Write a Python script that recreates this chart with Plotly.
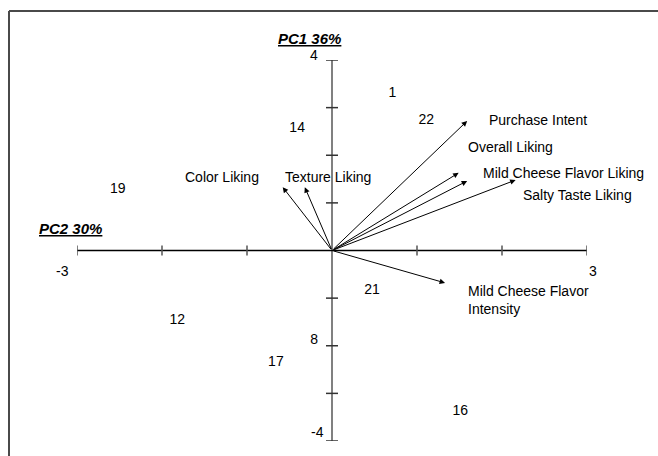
import plotly.graph_objects as go

# Sample scores on the two principal components
sample_ids = ["1", "22", "14", "19", "21", "12", "8", "17", "16"]
sample_pc2 = [0.71, 1.11, -0.41, -2.52, 0.47, -1.82, -0.21, -0.66, 1.51]
sample_pc1 = [3.29, 2.72, 2.57, 1.29, -0.83, -1.46, -1.90, -2.36, -3.37]

# Attribute loadings (arrow tips)
attr_names = [
    "Purchase Intent",
    "Overall Liking",
    "Mild Cheese Flavor Liking",
    "Salty Taste Liking",
    "Color Liking",
    "Texture Liking",
    "Mild Cheese Flavor<br>Intensity",
]
attr_pc2 = [1.59, 1.49, 1.59, 2.16, -0.58, -0.32, 1.33]
attr_pc1 = [2.72, 1.63, 1.46, 1.48, 1.33, 1.33, -0.68]

# Axis ticks
x_ticks = [-3, -2, -1, 0, 1, 2, 3]
y_ticks = [-4, -3, -2, -1, 1, 2, 3, 4]
x_axis_title = "PC2 30%"
y_axis_title = "PC1 36%"

FONT = "Liberation Sans, Arial, sans-serif"
W, H = 658, 456
ML, MR, MT, MB = 77, 71, 60, 15

fig = go.Figure()

fig.add_trace(go.Scatter(
    x=sample_pc2, y=sample_pc1, text=sample_ids, mode="text",
    textposition="middle center",
    textfont=dict(family=FONT, size=14, color="#000000"),
    hoverinfo="skip", showlegend=False,
))

shapes = []
annotations = []

# Outer frame (top and left edges)
def px_to_paper_x(px):
    return (px - ML) / (W - ML - MR)

def px_to_paper_y(py):
    return (H - MB - py) / (H - MT - MB)

shapes.append(dict(type="line", xref="paper", yref="paper",
                   x0=px_to_paper_x(9), x1=px_to_paper_x(W + 5),
                   y0=px_to_paper_y(11), y1=px_to_paper_y(11),
                   line=dict(color="#4a4a4a", width=2)))
shapes.append(dict(type="line", xref="paper", yref="paper",
                   x0=px_to_paper_x(9), x1=px_to_paper_x(9),
                   y0=px_to_paper_y(11), y1=px_to_paper_y(H + 5),
                   line=dict(color="#4a4a4a", width=2)))

# Axis lines crossing at the origin
shapes.append(dict(type="line", xref="x", yref="y",
                   x0=0, x1=0, y0=y_ticks[0], y1=y_ticks[-1],
                   line=dict(color="#808080", width=2)))
shapes.append(dict(type="line", xref="x", yref="y",
                   x0=x_ticks[0], x1=x_ticks[-1] + 0.08, y0=0, y1=0,
                   line=dict(color="#000000", width=1.3)))

# Cross tick marks
for v in x_ticks:
    if v == 0:
        continue
    shapes.append(dict(type="line", xref="x", yref="y", ysizemode="pixel",
                       yanchor=0, x0=v, x1=v, y0=-5, y1=5,
                       line=dict(color="#555555", width=1.5)))
for v in y_ticks:
    shapes.append(dict(type="line", xref="x", yref="y", xsizemode="pixel",
                       xanchor=0, x0=-6, x1=6, y0=v, y1=v,
                       line=dict(color="#333333", width=1.5)))

# End tick labels
end_labels = [
    (x_ticks[0], 0, str(x_ticks[0]), "center", -15, -20),
    (x_ticks[-1], 0, str(x_ticks[-1]), "center", 6, -20),
    (0, y_ticks[-1], str(y_ticks[-1]), "right", -12, 5),
    (0, y_ticks[0], str(y_ticks[0]), "right", -6, 9),
]
for x, y, t, anchor, dx, dy in end_labels:
    annotations.append(dict(x=x, y=y, xref="x", yref="y", text=t,
                            showarrow=False, xanchor=anchor, yanchor="middle",
                            xshift=dx, yshift=dy,
                            font=dict(family=FONT, size=14, color="#000000")))

# Axis titles
annotations.append(dict(x=0, y=y_ticks[-1], xref="x", yref="y",
                        text=f"<u><b><i>{y_axis_title}</i></b></u>",
                        showarrow=False, xanchor="center", yanchor="middle",
                        xshift=-23, yshift=22,
                        font=dict(family=FONT, size=15, color="#000000")))
annotations.append(dict(x=x_ticks[0], y=0, xref="x", yref="y",
                        text=f"<u><b><i>{x_axis_title}</i></b></u>",
                        showarrow=False, xanchor="center", yanchor="middle",
                        xshift=-7, yshift=22,
                        font=dict(family=FONT, size=15, color="#000000")))

# Loading arrows from the origin
for x, y in zip(attr_pc2, attr_pc1):
    annotations.append(dict(x=x, y=y, ax=0, ay=0, xref="x", yref="y",
                            axref="x", ayref="y", text="", showarrow=True,
                            arrowhead=2, arrowsize=1.1, arrowwidth=1,
                            arrowcolor="#000000", standoff=0))

# Attribute labels placed beside each arrow tip (pixel offsets)
label_offsets = [(20, 1), (7, 26), (14, 8), (5, -15), (-100, 10), (-22, 10), (21, -17)]
for name, x, y, (dx, dy) in zip(attr_names, attr_pc2, attr_pc1, label_offsets):
    annotations.append(dict(x=x, y=y, xref="x", yref="y", text=name,
                            showarrow=False, xanchor="left", yanchor="middle",
                            align="left", xshift=dx, yshift=dy,
                            font=dict(family=FONT, size=14, color="#000000")))

fig.update_layout(
    width=W, height=H,
    margin=dict(l=ML, r=MR, t=MT, b=MB, pad=0),
    paper_bgcolor="#ffffff", plot_bgcolor="#ffffff",
    xaxis=dict(range=[x_ticks[0], x_ticks[-1]], visible=False, fixedrange=True),
    yaxis=dict(range=[y_ticks[0], y_ticks[-1]], visible=False, fixedrange=True),
    shapes=shapes, annotations=annotations, showlegend=False,
    font=dict(family=FONT),
)

fig.write_html("out.html", config={"displayModeBar": False})
